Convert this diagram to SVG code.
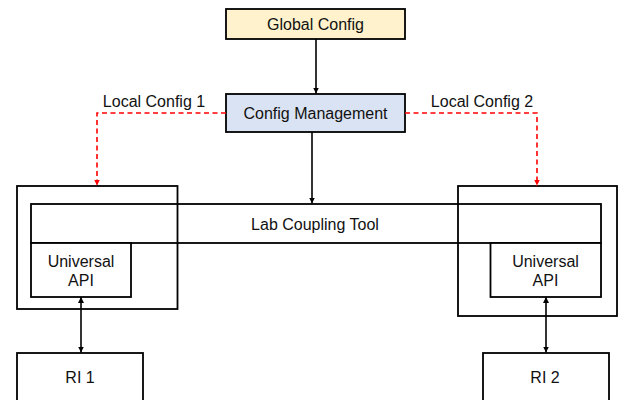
<svg xmlns="http://www.w3.org/2000/svg" width="618" height="400" viewBox="0 0 618 400">
<style>
.box{fill:#fff;stroke:#000;stroke-width:1.8}
.t{font-family:"Liberation Sans",Arial,sans-serif;font-size:16px;fill:#111;text-anchor:middle;dominant-baseline:central}
.c{fill:none;stroke:#000;stroke-width:1.6}
.d{fill:none;stroke:#f00;stroke-width:1.6;stroke-dasharray:5,3.5}
</style>
<defs>
<marker id="ab" viewBox="0 0 8 8" refX="8" refY="4" markerWidth="6" markerHeight="6" markerUnits="userSpaceOnUse" orient="auto-start-reverse"><path d="M0,0L8,4L0,8z" fill="#000"/></marker>
<marker id="ar" viewBox="0 0 8 8" refX="8" refY="4" markerWidth="6" markerHeight="6" markerUnits="userSpaceOnUse" orient="auto"><path d="M0,0L8,4L0,8z" fill="#f00"/></marker>
</defs>
<g id="global-config"><rect class="box" x="226" y="9" width="179" height="30" style="fill:#fff2cc"/><text class="t" x="315.5" y="24">Global Config</text></g>
<g id="config-management"><rect class="box" x="226" y="94" width="179" height="38" style="fill:#dae3f3"/><text class="t" x="315.5" y="113">Config Management</text></g>
<g id="lab1"><rect class="box" x="17" y="186" width="160.5" height="123"/></g>
<g id="lab2"><rect class="box" x="458" y="186" width="159" height="130"/></g>
<g id="lab-coupling-tool"><rect class="box" x="31" y="204" width="570" height="39" style="fill:none"/><text class="t" x="315" y="224">Lab Coupling Tool</text></g>
<g id="api1"><rect class="box" x="31" y="243" width="100" height="54"/><text class="t" x="81" y="261">Universal</text><text class="t" x="81" y="280">API</text></g>
<g id="api2"><rect class="box" x="490.5" y="243" width="110.5" height="54"/><text class="t" x="545.5" y="261">Universal</text><text class="t" x="545.5" y="280">API</text></g>
<g id="ri1"><rect class="box" x="17" y="353" width="126" height="60"/><text class="t" x="80" y="377">RI 1</text></g>
<g id="ri2"><rect class="box" x="483" y="353" width="126" height="60"/><text class="t" x="545" y="377">RI 2</text></g>
<g id="connectors">
<line class="c" x1="316" y1="39" x2="316" y2="93.5" marker-end="url(#ab)"/>
<line class="c" x1="312" y1="132" x2="312" y2="203.5" marker-end="url(#ab)"/>
<polyline class="d" points="226,113 97,113 97,185.5" marker-end="url(#ar)"/>
<polyline class="d" points="405,113 537,113 537,185.5" marker-end="url(#ar)"/>
<line class="c" x1="81" y1="297" x2="81" y2="352.5" marker-start="url(#ab)" marker-end="url(#ab)"/>
<line class="c" x1="546" y1="297" x2="546" y2="352.5" marker-start="url(#ab)" marker-end="url(#ab)"/>
<text class="t" x="154" y="101">Local Config 1</text>
<text class="t" x="482" y="101">Local Config 2</text>
</g>
</svg>
